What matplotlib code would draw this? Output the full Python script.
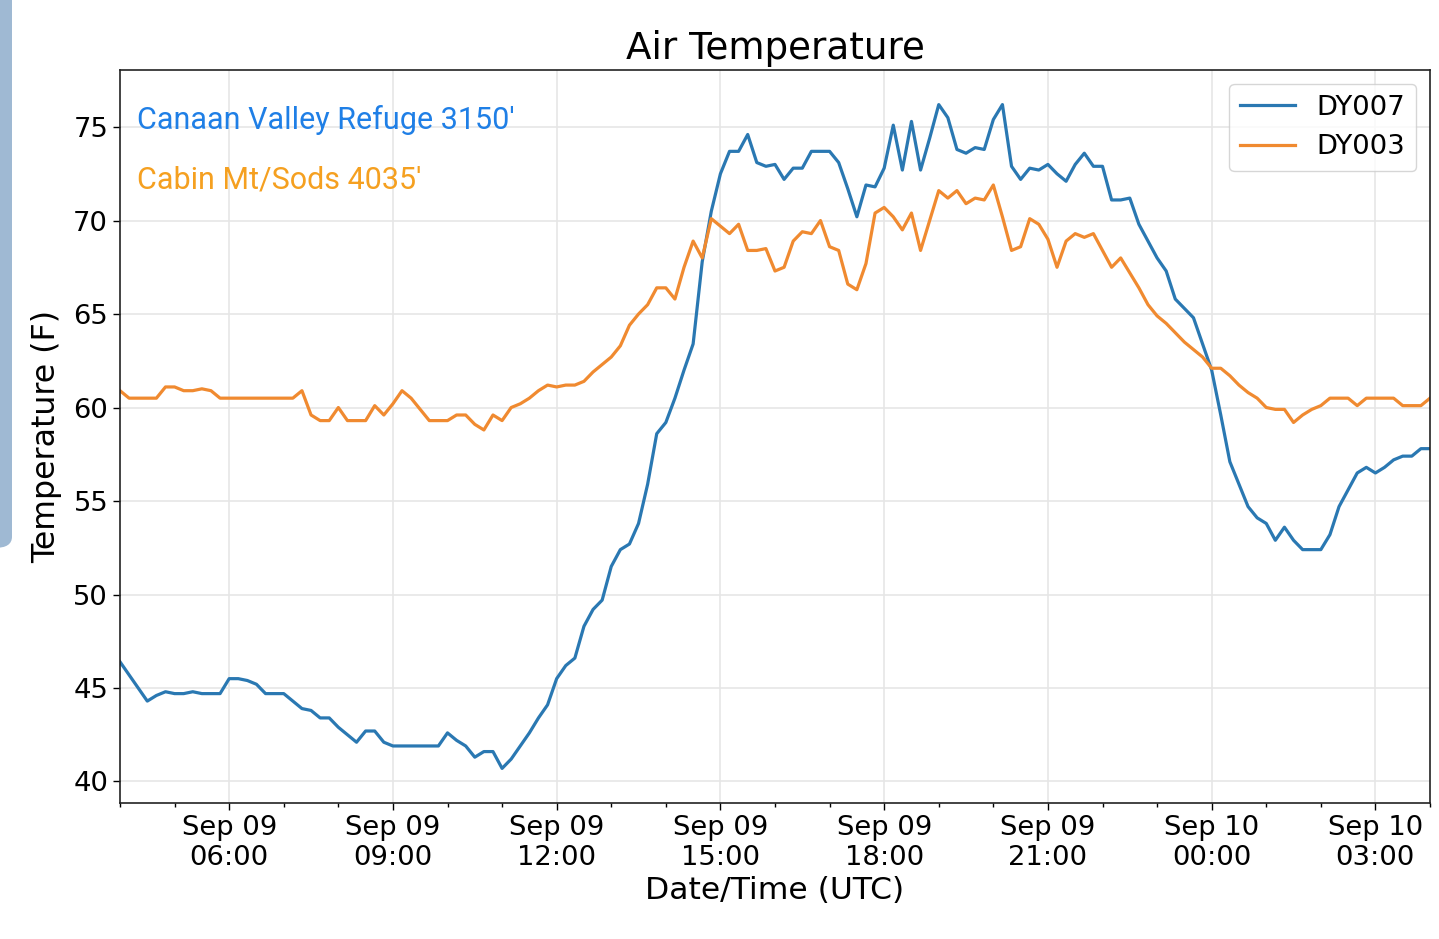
import matplotlib
matplotlib.use("Agg")
import matplotlib.pyplot as plt
import matplotlib.dates as mdates
from matplotlib.patches import FancyBboxPatch
import pandas as pd

# ---- data (10-minute readings, deg F) ----
start_time = "2019-09-09 04:00"
interval = "10min"

dy007 = [
    46.4, 45.7, 45.0, 44.3, 44.6, 44.8, 44.7, 44.7, 44.8, 44.7,
    44.7, 44.7, 45.5, 45.5, 45.4, 45.2, 44.7, 44.7, 44.7, 44.3,
    43.9, 43.8, 43.4, 43.4, 42.9, 42.5, 42.1, 42.7, 42.7, 42.1,
    41.9, 41.9, 41.9, 41.9, 41.9, 41.9, 42.6, 42.2, 41.9, 41.3,
    41.6, 41.6, 40.7, 41.2, 41.9, 42.6, 43.4, 44.1, 45.5, 46.2,
    46.6, 48.3, 49.2, 49.7, 51.5, 52.4, 52.7, 53.8, 55.9, 58.6,
    59.2, 60.5, 62.0, 63.4, 67.8, 70.5, 72.5, 73.7, 73.7, 74.6,
    73.1, 72.9, 73.0, 72.2, 72.8, 72.8, 73.7, 73.7, 73.7, 73.1,
    71.7, 70.2, 71.9, 71.8, 72.8, 75.1, 72.7, 75.3, 72.7, 74.4,
    76.2, 75.5, 73.8, 73.6, 73.9, 73.8, 75.4, 76.2, 72.9, 72.2,
    72.8, 72.7, 73.0, 72.5, 72.1, 73.0, 73.6, 72.9, 72.9, 71.1,
    71.1, 71.2, 69.8, 68.9, 68.0, 67.3, 65.8, 65.3, 64.8, 63.4,
    62.0, 59.6, 57.1, 55.9, 54.7, 54.1, 53.8, 52.9, 53.6, 52.9,
    52.4, 52.4, 52.4, 53.2, 54.7, 55.6, 56.5, 56.8, 56.5, 56.8,
    57.2, 57.4, 57.4, 57.8, 57.8,
]

dy003 = [
    60.9, 60.5, 60.5, 60.5, 60.5, 61.1, 61.1, 60.9, 60.9, 61.0,
    60.9, 60.5, 60.5, 60.5, 60.5, 60.5, 60.5, 60.5, 60.5, 60.5,
    60.9, 59.6, 59.3, 59.3, 60.0, 59.3, 59.3, 59.3, 60.1, 59.6,
    60.2, 60.9, 60.5, 59.9, 59.3, 59.3, 59.3, 59.6, 59.6, 59.1,
    58.8, 59.6, 59.3, 60.0, 60.2, 60.5, 60.9, 61.2, 61.1, 61.2,
    61.2, 61.4, 61.9, 62.3, 62.7, 63.3, 64.4, 65.0, 65.5, 66.4,
    66.4, 65.8, 67.5, 68.9, 68.0, 70.1, 69.7, 69.3, 69.8, 68.4,
    68.4, 68.5, 67.3, 67.5, 68.9, 69.4, 69.3, 70.0, 68.6, 68.4,
    66.6, 66.3, 67.7, 70.4, 70.7, 70.2, 69.5, 70.4, 68.4, 70.0,
    71.6, 71.2, 71.6, 70.9, 71.2, 71.1, 71.9, 70.2, 68.4, 68.6,
    70.1, 69.8, 69.0, 67.5, 68.9, 69.3, 69.1, 69.3, 68.4, 67.5,
    68.0, 67.2, 66.4, 65.5, 64.9, 64.5, 64.0, 63.5, 63.1, 62.7,
    62.1, 62.1, 61.7, 61.2, 60.8, 60.5, 60.0, 59.9, 59.9, 59.2,
    59.6, 59.9, 60.1, 60.5, 60.5, 60.5, 60.1, 60.5, 60.5, 60.5,
    60.5, 60.1, 60.1, 60.1, 60.5,
]

series_labels = ["DY007", "DY003"]
station_notes = ["Canaan Valley Refuge 3150'", "Cabin Mt/Sods 4035'"]

times = pd.date_range(start=start_time, periods=len(dy007), freq=interval)

# ---- figure ----
fig = plt.figure(figsize=(14.39, 9.39), dpi=100)
ax = fig.add_axes([120 / 1439, 1 - 803 / 939, 1310 / 1439, 733 / 939])

# screenshot artifact at left edge
fig.patches.append(FancyBboxPatch((-0.02, 1 - 548 / 939), 0.02 + 12 / 1439, 548 / 939 + 0.02,
                                  boxstyle="round,pad=0,rounding_size=0.012",
                                  transform=fig.transFigure, facecolor="#9fb9d3",
                                  edgecolor="none", zorder=-1))

ax.plot(times, dy007, color="#2a78b2", lw=2.3, label=series_labels[0])
ax.plot(times, dy003, color="#f08a30", lw=2.3, label=series_labels[1])

ax.set_xlim(times[0], times[-1])
ax.set_ylim(38.85, 78.05)
ax.set_yticks([40, 45, 50, 55, 60, 65, 70, 75])

ax.xaxis.set_major_locator(mdates.HourLocator(byhour=[0, 3, 6, 9, 12, 15, 18, 21]))
ax.xaxis.set_minor_locator(mdates.HourLocator(interval=1))
ax.xaxis.set_major_formatter(mdates.DateFormatter("%b %d\n%H:%M"))

ax.grid(True, which="major", color="#e6e6e6", lw=1.2)
ax.set_axisbelow(True)
ax.tick_params(axis="both", which="major", labelsize=19.7, length=5, width=1)
ax.tick_params(axis="x", which="minor", length=3, width=1)
for lab in ax.get_xticklabels():
    lab.set_horizontalalignment("center")

for s in ax.spines.values():
    s.set_color("#222222")
    s.set_linewidth(1.2)

ax.set_title("Air Temperature", fontsize=26.8, pad=8)
ax.set_xlabel("Date/Time (UTC)", fontsize=22.6, labelpad=4)
ax.set_ylabel("Temperature (F)", fontsize=22.8, labelpad=8)

ax.text(0.013, 0.9195, station_notes[0], transform=ax.transAxes, fontsize=22,
        family="Roboto", color="#1f7fe6", va="baseline", ha="left")
ax.text(0.013, 0.839, station_notes[1], transform=ax.transAxes, fontsize=22,
        family="Roboto", color="#f5a020", va="baseline", ha="left")

ax.legend(loc="upper right", fontsize=19.7, handlelength=2.0)

fig.savefig("out.png", dpi=100)
